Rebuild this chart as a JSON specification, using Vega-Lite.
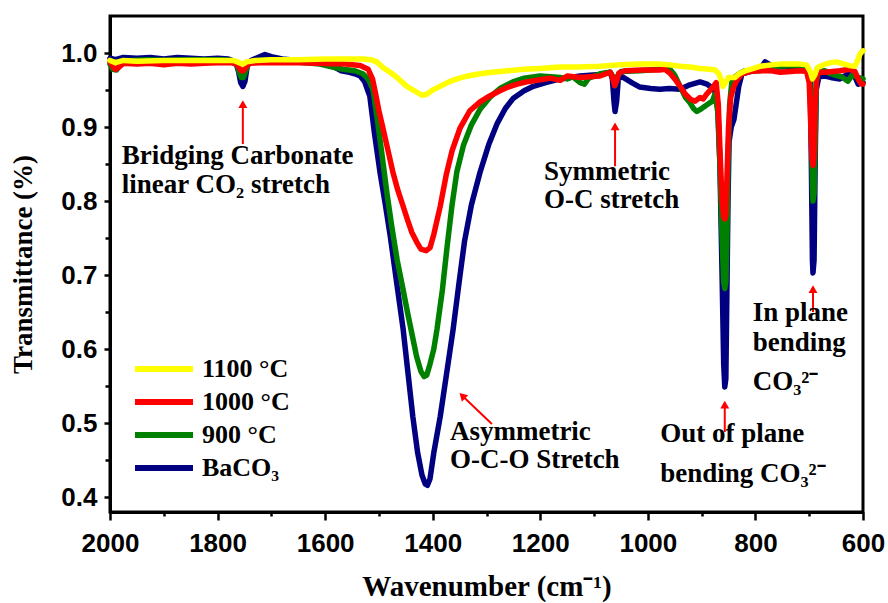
{
  "$schema": "https://vega.github.io/schema/vega-lite/v6.json",
  "width": 753,
  "height": 496,
  "autosize": {"type": "none"},
  "padding": {"left": 110, "top": 16, "right": 25, "bottom": 91},
  "background": "white",
  "config": {
    "view": {"stroke": "black", "strokeWidth": 3},
    "font": "Liberation Serif",
    "axis": {
      "grid": false,
      "domainColor": "black",
      "domainWidth": 3,
      "tickColor": "black",
      "tickWidth": 2.5,
      "labelFont": "Liberation Sans",
      "labelFontWeight": "bold",
      "labelFontSize": 26,
      "labelColor": "black",
      "titleFont": "Liberation Serif",
      "titleFontWeight": "bold",
      "titleFontSize": 27,
      "titleColor": "black"
    }
  },
  "datasets": {
    "spectra": [
      {"s": "BaCO₃", "wn": 2000, "t": 0.993}, {"s": "BaCO₃", "wn": 1990, "t": 0.991}, {"s": "BaCO₃", "wn": 1975, "t": 0.994},
      {"s": "BaCO₃", "wn": 1950, "t": 0.993}, {"s": "BaCO₃", "wn": 1925, "t": 0.994}, {"s": "BaCO₃", "wn": 1900, "t": 0.992},
      {"s": "BaCO₃", "wn": 1875, "t": 0.994}, {"s": "BaCO₃", "wn": 1850, "t": 0.993}, {"s": "BaCO₃", "wn": 1825, "t": 0.992},
      {"s": "BaCO₃", "wn": 1800, "t": 0.993}, {"s": "BaCO₃", "wn": 1780, "t": 0.992}, {"s": "BaCO₃", "wn": 1766, "t": 0.988},
      {"s": "BaCO₃", "wn": 1761, "t": 0.975}, {"s": "BaCO₃", "wn": 1757, "t": 0.96}, {"s": "BaCO₃", "wn": 1753, "t": 0.955},
      {"s": "BaCO₃", "wn": 1749, "t": 0.962}, {"s": "BaCO₃", "wn": 1745, "t": 0.982}, {"s": "BaCO₃", "wn": 1738, "t": 0.99},
      {"s": "BaCO₃", "wn": 1725, "t": 0.994}, {"s": "BaCO₃", "wn": 1712, "t": 0.998}, {"s": "BaCO₃", "wn": 1700, "t": 0.995},
      {"s": "BaCO₃", "wn": 1680, "t": 0.992}, {"s": "BaCO₃", "wn": 1650, "t": 0.99}, {"s": "BaCO₃", "wn": 1620, "t": 0.988},
      {"s": "BaCO₃", "wn": 1600, "t": 0.986}, {"s": "BaCO₃", "wn": 1585, "t": 0.982}, {"s": "BaCO₃", "wn": 1570, "t": 0.976},
      {"s": "BaCO₃", "wn": 1555, "t": 0.974}, {"s": "BaCO₃", "wn": 1545, "t": 0.972}, {"s": "BaCO₃", "wn": 1535, "t": 0.969},
      {"s": "BaCO₃", "wn": 1527, "t": 0.962}, {"s": "BaCO₃", "wn": 1517, "t": 0.942}, {"s": "BaCO₃", "wn": 1508, "t": 0.89},
      {"s": "BaCO₃", "wn": 1498, "t": 0.839}, {"s": "BaCO₃", "wn": 1488, "t": 0.795}, {"s": "BaCO₃", "wn": 1479, "t": 0.753},
      {"s": "BaCO₃", "wn": 1467, "t": 0.69}, {"s": "BaCO₃", "wn": 1455, "t": 0.627}, {"s": "BaCO₃", "wn": 1446, "t": 0.568},
      {"s": "BaCO₃", "wn": 1437, "t": 0.509}, {"s": "BaCO₃", "wn": 1428, "t": 0.46}, {"s": "BaCO₃", "wn": 1420, "t": 0.43},
      {"s": "BaCO₃", "wn": 1414, "t": 0.418}, {"s": "BaCO₃", "wn": 1410, "t": 0.416}, {"s": "BaCO₃", "wn": 1405, "t": 0.425},
      {"s": "BaCO₃", "wn": 1398, "t": 0.46}, {"s": "BaCO₃", "wn": 1386, "t": 0.509}, {"s": "BaCO₃", "wn": 1374, "t": 0.568},
      {"s": "BaCO₃", "wn": 1362, "t": 0.627}, {"s": "BaCO₃", "wn": 1351, "t": 0.69}, {"s": "BaCO₃", "wn": 1341, "t": 0.745},
      {"s": "BaCO₃", "wn": 1328, "t": 0.795}, {"s": "BaCO₃", "wn": 1312, "t": 0.839}, {"s": "BaCO₃", "wn": 1296, "t": 0.876},
      {"s": "BaCO₃", "wn": 1280, "t": 0.905}, {"s": "BaCO₃", "wn": 1265, "t": 0.925}, {"s": "BaCO₃", "wn": 1250, "t": 0.939},
      {"s": "BaCO₃", "wn": 1230, "t": 0.949}, {"s": "BaCO₃", "wn": 1213, "t": 0.955}, {"s": "BaCO₃", "wn": 1190, "t": 0.96},
      {"s": "BaCO₃", "wn": 1163, "t": 0.965}, {"s": "BaCO₃", "wn": 1126, "t": 0.969}, {"s": "BaCO₃", "wn": 1089, "t": 0.971},
      {"s": "BaCO₃", "wn": 1070, "t": 0.974}, {"s": "BaCO₃", "wn": 1066, "t": 0.965}, {"s": "BaCO₃", "wn": 1063, "t": 0.935},
      {"s": "BaCO₃", "wn": 1061, "t": 0.921}, {"s": "BaCO₃", "wn": 1058, "t": 0.935}, {"s": "BaCO₃", "wn": 1055, "t": 0.965},
      {"s": "BaCO₃", "wn": 1048, "t": 0.968}, {"s": "BaCO₃", "wn": 1030, "t": 0.96}, {"s": "BaCO₃", "wn": 1015, "t": 0.954},
      {"s": "BaCO₃", "wn": 995, "t": 0.952}, {"s": "BaCO₃", "wn": 978, "t": 0.951}, {"s": "BaCO₃", "wn": 960, "t": 0.952},
      {"s": "BaCO₃", "wn": 940, "t": 0.951}, {"s": "BaCO₃", "wn": 922, "t": 0.957}, {"s": "BaCO₃", "wn": 903, "t": 0.961},
      {"s": "BaCO₃", "wn": 890, "t": 0.958}, {"s": "BaCO₃", "wn": 879, "t": 0.952}, {"s": "BaCO₃", "wn": 873, "t": 0.945},
      {"s": "BaCO₃", "wn": 870, "t": 0.93}, {"s": "BaCO₃", "wn": 866, "t": 0.85}, {"s": "BaCO₃", "wn": 862, "t": 0.7},
      {"s": "BaCO₃", "wn": 859, "t": 0.58}, {"s": "BaCO₃", "wn": 857, "t": 0.549}, {"s": "BaCO₃", "wn": 855, "t": 0.56},
      {"s": "BaCO₃", "wn": 853, "t": 0.68}, {"s": "BaCO₃", "wn": 851, "t": 0.8}, {"s": "BaCO₃", "wn": 849, "t": 0.88},
      {"s": "BaCO₃", "wn": 845, "t": 0.9}, {"s": "BaCO₃", "wn": 840, "t": 0.91}, {"s": "BaCO₃", "wn": 836, "t": 0.93},
      {"s": "BaCO₃", "wn": 831, "t": 0.955}, {"s": "BaCO₃", "wn": 825, "t": 0.972}, {"s": "BaCO₃", "wn": 805, "t": 0.976},
      {"s": "BaCO₃", "wn": 792, "t": 0.978}, {"s": "BaCO₃", "wn": 782, "t": 0.988}, {"s": "BaCO₃", "wn": 770, "t": 0.983},
      {"s": "BaCO₃", "wn": 754, "t": 0.981}, {"s": "BaCO₃", "wn": 735, "t": 0.982}, {"s": "BaCO₃", "wn": 717, "t": 0.982},
      {"s": "BaCO₃", "wn": 702, "t": 0.978}, {"s": "BaCO₃", "wn": 698, "t": 0.96}, {"s": "BaCO₃", "wn": 696, "t": 0.85},
      {"s": "BaCO₃", "wn": 694, "t": 0.72}, {"s": "BaCO₃", "wn": 693, "t": 0.703}, {"s": "BaCO₃", "wn": 691, "t": 0.72},
      {"s": "BaCO₃", "wn": 689, "t": 0.85}, {"s": "BaCO₃", "wn": 687, "t": 0.95}, {"s": "BaCO₃", "wn": 682, "t": 0.968},
      {"s": "BaCO₃", "wn": 671, "t": 0.969}, {"s": "BaCO₃", "wn": 660, "t": 0.967}, {"s": "BaCO₃", "wn": 643, "t": 0.965},
      {"s": "BaCO₃", "wn": 632, "t": 0.97}, {"s": "BaCO₃", "wn": 624, "t": 0.974}, {"s": "BaCO₃", "wn": 615, "t": 0.968},
      {"s": "BaCO₃", "wn": 609, "t": 0.958}, {"s": "BaCO₃", "wn": 604, "t": 0.962}, {"s": "BaCO₃", "wn": 600, "t": 0.96},

      {"s": "900 °C", "wn": 2000, "t": 0.985}, {"s": "900 °C", "wn": 1995, "t": 0.978}, {"s": "900 °C", "wn": 1988, "t": 0.977},
      {"s": "900 °C", "wn": 1980, "t": 0.986}, {"s": "900 °C", "wn": 1960, "t": 0.99}, {"s": "900 °C", "wn": 1930, "t": 0.991},
      {"s": "900 °C", "wn": 1900, "t": 0.99}, {"s": "900 °C", "wn": 1850, "t": 0.991}, {"s": "900 °C", "wn": 1800, "t": 0.991},
      {"s": "900 °C", "wn": 1775, "t": 0.99}, {"s": "900 °C", "wn": 1765, "t": 0.985}, {"s": "900 °C", "wn": 1760, "t": 0.975},
      {"s": "900 °C", "wn": 1756, "t": 0.967}, {"s": "900 °C", "wn": 1752, "t": 0.967}, {"s": "900 °C", "wn": 1748, "t": 0.975},
      {"s": "900 °C", "wn": 1742, "t": 0.987}, {"s": "900 °C", "wn": 1720, "t": 0.99}, {"s": "900 °C", "wn": 1700, "t": 0.99},
      {"s": "900 °C", "wn": 1650, "t": 0.988}, {"s": "900 °C", "wn": 1610, "t": 0.985}, {"s": "900 °C", "wn": 1580, "t": 0.98},
      {"s": "900 °C", "wn": 1567, "t": 0.978}, {"s": "900 °C", "wn": 1545, "t": 0.976}, {"s": "900 °C", "wn": 1530, "t": 0.972},
      {"s": "900 °C", "wn": 1520, "t": 0.965}, {"s": "900 °C", "wn": 1511, "t": 0.951}, {"s": "900 °C", "wn": 1502, "t": 0.905},
      {"s": "900 °C", "wn": 1494, "t": 0.861}, {"s": "900 °C", "wn": 1485, "t": 0.81}, {"s": "900 °C", "wn": 1476, "t": 0.765},
      {"s": "900 °C", "wn": 1466, "t": 0.72}, {"s": "900 °C", "wn": 1455, "t": 0.68}, {"s": "900 °C", "wn": 1447, "t": 0.65},
      {"s": "900 °C", "wn": 1439, "t": 0.622}, {"s": "900 °C", "wn": 1430, "t": 0.59}, {"s": "900 °C", "wn": 1422, "t": 0.57},
      {"s": "900 °C", "wn": 1416, "t": 0.563}, {"s": "900 °C", "wn": 1411, "t": 0.565}, {"s": "900 °C", "wn": 1405, "t": 0.58},
      {"s": "900 °C", "wn": 1398, "t": 0.6}, {"s": "900 °C", "wn": 1392, "t": 0.627}, {"s": "900 °C", "wn": 1382, "t": 0.68},
      {"s": "900 °C", "wn": 1373, "t": 0.74}, {"s": "900 °C", "wn": 1364, "t": 0.795}, {"s": "900 °C", "wn": 1355, "t": 0.84},
      {"s": "900 °C", "wn": 1343, "t": 0.875}, {"s": "900 °C", "wn": 1328, "t": 0.903}, {"s": "900 °C", "wn": 1312, "t": 0.924},
      {"s": "900 °C", "wn": 1294, "t": 0.94}, {"s": "900 °C", "wn": 1275, "t": 0.952}, {"s": "900 °C", "wn": 1251, "t": 0.961},
      {"s": "900 °C", "wn": 1230, "t": 0.966}, {"s": "900 °C", "wn": 1201, "t": 0.969}, {"s": "900 °C", "wn": 1180, "t": 0.968},
      {"s": "900 °C", "wn": 1163, "t": 0.967}, {"s": "900 °C", "wn": 1150, "t": 0.965}, {"s": "900 °C", "wn": 1140, "t": 0.968},
      {"s": "900 °C", "wn": 1126, "t": 0.96}, {"s": "900 °C", "wn": 1118, "t": 0.958}, {"s": "900 °C", "wn": 1110, "t": 0.966},
      {"s": "900 °C", "wn": 1089, "t": 0.972}, {"s": "900 °C", "wn": 1070, "t": 0.974}, {"s": "900 °C", "wn": 1065, "t": 0.968},
      {"s": "900 °C", "wn": 1061, "t": 0.956}, {"s": "900 °C", "wn": 1057, "t": 0.968}, {"s": "900 °C", "wn": 1050, "t": 0.975},
      {"s": "900 °C", "wn": 1015, "t": 0.976}, {"s": "900 °C", "wn": 978, "t": 0.978}, {"s": "900 °C", "wn": 959, "t": 0.978},
      {"s": "900 °C", "wn": 950, "t": 0.97}, {"s": "900 °C", "wn": 940, "t": 0.955}, {"s": "900 °C", "wn": 930, "t": 0.94},
      {"s": "900 °C", "wn": 922, "t": 0.933}, {"s": "900 °C", "wn": 915, "t": 0.925}, {"s": "900 °C", "wn": 909, "t": 0.921},
      {"s": "900 °C", "wn": 900, "t": 0.925}, {"s": "900 °C", "wn": 894, "t": 0.928}, {"s": "900 °C", "wn": 886, "t": 0.932},
      {"s": "900 °C", "wn": 880, "t": 0.935}, {"s": "900 °C", "wn": 875, "t": 0.945}, {"s": "900 °C", "wn": 870, "t": 0.92},
      {"s": "900 °C", "wn": 866, "t": 0.85}, {"s": "900 °C", "wn": 862, "t": 0.75}, {"s": "900 °C", "wn": 859, "t": 0.69},
      {"s": "900 °C", "wn": 857, "t": 0.682}, {"s": "900 °C", "wn": 855, "t": 0.69}, {"s": "900 °C", "wn": 853, "t": 0.75},
      {"s": "900 °C", "wn": 851, "t": 0.85}, {"s": "900 °C", "wn": 848, "t": 0.93}, {"s": "900 °C", "wn": 844, "t": 0.96},
      {"s": "900 °C", "wn": 838, "t": 0.968}, {"s": "900 °C", "wn": 830, "t": 0.972}, {"s": "900 °C", "wn": 820, "t": 0.976},
      {"s": "900 °C", "wn": 792, "t": 0.976}, {"s": "900 °C", "wn": 770, "t": 0.98}, {"s": "900 °C", "wn": 754, "t": 0.982},
      {"s": "900 °C", "wn": 735, "t": 0.983}, {"s": "900 °C", "wn": 717, "t": 0.982}, {"s": "900 °C", "wn": 705, "t": 0.98},
      {"s": "900 °C", "wn": 699, "t": 0.97}, {"s": "900 °C", "wn": 696, "t": 0.9}, {"s": "900 °C", "wn": 694, "t": 0.82},
      {"s": "900 °C", "wn": 693, "t": 0.8}, {"s": "900 °C", "wn": 691, "t": 0.81}, {"s": "900 °C", "wn": 689, "t": 0.88},
      {"s": "900 °C", "wn": 687, "t": 0.96}, {"s": "900 °C", "wn": 683, "t": 0.975}, {"s": "900 °C", "wn": 671, "t": 0.976},
      {"s": "900 °C", "wn": 660, "t": 0.972}, {"s": "900 °C", "wn": 652, "t": 0.97}, {"s": "900 °C", "wn": 640, "t": 0.968},
      {"s": "900 °C", "wn": 628, "t": 0.962}, {"s": "900 °C", "wn": 620, "t": 0.97}, {"s": "900 °C", "wn": 609, "t": 0.967},
      {"s": "900 °C", "wn": 600, "t": 0.965},

      {"s": "1000 °C", "wn": 2000, "t": 0.988}, {"s": "1000 °C", "wn": 1995, "t": 0.982}, {"s": "1000 °C", "wn": 1990, "t": 0.978},
      {"s": "1000 °C", "wn": 1985, "t": 0.98}, {"s": "1000 °C", "wn": 1975, "t": 0.986}, {"s": "1000 °C", "wn": 1950, "t": 0.985},
      {"s": "1000 °C", "wn": 1925, "t": 0.986}, {"s": "1000 °C", "wn": 1900, "t": 0.984}, {"s": "1000 °C", "wn": 1875, "t": 0.986},
      {"s": "1000 °C", "wn": 1850, "t": 0.985}, {"s": "1000 °C", "wn": 1825, "t": 0.986}, {"s": "1000 °C", "wn": 1800, "t": 0.987},
      {"s": "1000 °C", "wn": 1775, "t": 0.987}, {"s": "1000 °C", "wn": 1765, "t": 0.985}, {"s": "1000 °C", "wn": 1760, "t": 0.98},
      {"s": "1000 °C", "wn": 1756, "t": 0.976}, {"s": "1000 °C", "wn": 1752, "t": 0.976}, {"s": "1000 °C", "wn": 1748, "t": 0.98},
      {"s": "1000 °C", "wn": 1742, "t": 0.986}, {"s": "1000 °C", "wn": 1720, "t": 0.987}, {"s": "1000 °C", "wn": 1700, "t": 0.987},
      {"s": "1000 °C", "wn": 1650, "t": 0.987}, {"s": "1000 °C", "wn": 1600, "t": 0.986}, {"s": "1000 °C", "wn": 1560, "t": 0.985},
      {"s": "1000 °C", "wn": 1535, "t": 0.983}, {"s": "1000 °C", "wn": 1520, "t": 0.978}, {"s": "1000 °C", "wn": 1512, "t": 0.965},
      {"s": "1000 °C", "wn": 1507, "t": 0.948}, {"s": "1000 °C", "wn": 1500, "t": 0.922}, {"s": "1000 °C", "wn": 1492, "t": 0.897},
      {"s": "1000 °C", "wn": 1483, "t": 0.868}, {"s": "1000 °C", "wn": 1474, "t": 0.839}, {"s": "1000 °C", "wn": 1465, "t": 0.815},
      {"s": "1000 °C", "wn": 1455, "t": 0.793}, {"s": "1000 °C", "wn": 1447, "t": 0.775}, {"s": "1000 °C", "wn": 1439, "t": 0.758},
      {"s": "1000 °C", "wn": 1430, "t": 0.745}, {"s": "1000 °C", "wn": 1422, "t": 0.735}, {"s": "1000 °C", "wn": 1412, "t": 0.733},
      {"s": "1000 °C", "wn": 1405, "t": 0.737}, {"s": "1000 °C", "wn": 1398, "t": 0.755}, {"s": "1000 °C", "wn": 1386, "t": 0.793},
      {"s": "1000 °C", "wn": 1375, "t": 0.835}, {"s": "1000 °C", "wn": 1364, "t": 0.868}, {"s": "1000 °C", "wn": 1349, "t": 0.899},
      {"s": "1000 °C", "wn": 1331, "t": 0.922}, {"s": "1000 °C", "wn": 1312, "t": 0.934}, {"s": "1000 °C", "wn": 1294, "t": 0.942},
      {"s": "1000 °C", "wn": 1275, "t": 0.949}, {"s": "1000 °C", "wn": 1260, "t": 0.954}, {"s": "1000 °C", "wn": 1243, "t": 0.958},
      {"s": "1000 °C", "wn": 1225, "t": 0.961}, {"s": "1000 °C", "wn": 1200, "t": 0.964}, {"s": "1000 °C", "wn": 1182, "t": 0.966},
      {"s": "1000 °C", "wn": 1163, "t": 0.963}, {"s": "1000 °C", "wn": 1150, "t": 0.969}, {"s": "1000 °C", "wn": 1126, "t": 0.967},
      {"s": "1000 °C", "wn": 1089, "t": 0.969}, {"s": "1000 °C", "wn": 1070, "t": 0.974}, {"s": "1000 °C", "wn": 1066, "t": 0.968},
      {"s": "1000 °C", "wn": 1062, "t": 0.956}, {"s": "1000 °C", "wn": 1058, "t": 0.962}, {"s": "1000 °C", "wn": 1054, "t": 0.973},
      {"s": "1000 °C", "wn": 1043, "t": 0.976}, {"s": "1000 °C", "wn": 1010, "t": 0.977}, {"s": "1000 °C", "wn": 978, "t": 0.977},
      {"s": "1000 °C", "wn": 968, "t": 0.978}, {"s": "1000 °C", "wn": 958, "t": 0.972}, {"s": "1000 °C", "wn": 950, "t": 0.965},
      {"s": "1000 °C", "wn": 940, "t": 0.955}, {"s": "1000 °C", "wn": 931, "t": 0.945}, {"s": "1000 °C", "wn": 920, "t": 0.937},
      {"s": "1000 °C", "wn": 912, "t": 0.935}, {"s": "1000 °C", "wn": 903, "t": 0.94}, {"s": "1000 °C", "wn": 897, "t": 0.938},
      {"s": "1000 °C", "wn": 890, "t": 0.945}, {"s": "1000 °C", "wn": 879, "t": 0.954}, {"s": "1000 °C", "wn": 873, "t": 0.96},
      {"s": "1000 °C", "wn": 869, "t": 0.93}, {"s": "1000 °C", "wn": 866, "t": 0.87}, {"s": "1000 °C", "wn": 862, "t": 0.8},
      {"s": "1000 °C", "wn": 859, "t": 0.778}, {"s": "1000 °C", "wn": 857, "t": 0.776}, {"s": "1000 °C", "wn": 855, "t": 0.78},
      {"s": "1000 °C", "wn": 853, "t": 0.83}, {"s": "1000 °C", "wn": 850, "t": 0.9}, {"s": "1000 °C", "wn": 846, "t": 0.94},
      {"s": "1000 °C", "wn": 840, "t": 0.955}, {"s": "1000 °C", "wn": 833, "t": 0.965}, {"s": "1000 °C", "wn": 825, "t": 0.972},
      {"s": "1000 °C", "wn": 810, "t": 0.975}, {"s": "1000 °C", "wn": 792, "t": 0.976}, {"s": "1000 °C", "wn": 770, "t": 0.976},
      {"s": "1000 °C", "wn": 754, "t": 0.974}, {"s": "1000 °C", "wn": 735, "t": 0.975}, {"s": "1000 °C", "wn": 717, "t": 0.976},
      {"s": "1000 °C", "wn": 705, "t": 0.975}, {"s": "1000 °C", "wn": 700, "t": 0.96}, {"s": "1000 °C", "wn": 697, "t": 0.9},
      {"s": "1000 °C", "wn": 695, "t": 0.86}, {"s": "1000 °C", "wn": 693, "t": 0.848}, {"s": "1000 °C", "wn": 691, "t": 0.86},
      {"s": "1000 °C", "wn": 689, "t": 0.93}, {"s": "1000 °C", "wn": 686, "t": 0.97}, {"s": "1000 °C", "wn": 680, "t": 0.974},
      {"s": "1000 °C", "wn": 671, "t": 0.974}, {"s": "1000 °C", "wn": 656, "t": 0.975}, {"s": "1000 °C", "wn": 643, "t": 0.976},
      {"s": "1000 °C", "wn": 625, "t": 0.978}, {"s": "1000 °C", "wn": 615, "t": 0.975}, {"s": "1000 °C", "wn": 609, "t": 0.965},
      {"s": "1000 °C", "wn": 603, "t": 0.958}, {"s": "1000 °C", "wn": 600, "t": 0.958},

      {"s": "1100 °C", "wn": 2000, "t": 0.99}, {"s": "1100 °C", "wn": 1990, "t": 0.987}, {"s": "1100 °C", "wn": 1975, "t": 0.99},
      {"s": "1100 °C", "wn": 1950, "t": 0.989}, {"s": "1100 °C", "wn": 1900, "t": 0.99}, {"s": "1100 °C", "wn": 1850, "t": 0.99},
      {"s": "1100 °C", "wn": 1800, "t": 0.99}, {"s": "1100 °C", "wn": 1770, "t": 0.99}, {"s": "1100 °C", "wn": 1760, "t": 0.987},
      {"s": "1100 °C", "wn": 1753, "t": 0.985}, {"s": "1100 °C", "wn": 1746, "t": 0.988}, {"s": "1100 °C", "wn": 1730, "t": 0.99},
      {"s": "1100 °C", "wn": 1700, "t": 0.991}, {"s": "1100 °C", "wn": 1650, "t": 0.991}, {"s": "1100 °C", "wn": 1600, "t": 0.992},
      {"s": "1100 °C", "wn": 1560, "t": 0.992}, {"s": "1100 °C", "wn": 1530, "t": 0.992}, {"s": "1100 °C", "wn": 1515, "t": 0.991},
      {"s": "1100 °C", "wn": 1504, "t": 0.988}, {"s": "1100 °C", "wn": 1492, "t": 0.98}, {"s": "1100 °C", "wn": 1479, "t": 0.974},
      {"s": "1100 °C", "wn": 1465, "t": 0.966}, {"s": "1100 °C", "wn": 1448, "t": 0.955}, {"s": "1100 °C", "wn": 1432, "t": 0.948},
      {"s": "1100 °C", "wn": 1420, "t": 0.943}, {"s": "1100 °C", "wn": 1412, "t": 0.944}, {"s": "1100 °C", "wn": 1400, "t": 0.95},
      {"s": "1100 °C", "wn": 1386, "t": 0.955}, {"s": "1100 °C", "wn": 1370, "t": 0.961}, {"s": "1100 °C", "wn": 1355, "t": 0.965},
      {"s": "1100 °C", "wn": 1335, "t": 0.969}, {"s": "1100 °C", "wn": 1312, "t": 0.972}, {"s": "1100 °C", "wn": 1290, "t": 0.974},
      {"s": "1100 °C", "wn": 1262, "t": 0.976}, {"s": "1100 °C", "wn": 1230, "t": 0.978}, {"s": "1100 °C", "wn": 1201, "t": 0.979},
      {"s": "1100 °C", "wn": 1163, "t": 0.981}, {"s": "1100 °C", "wn": 1130, "t": 0.981}, {"s": "1100 °C", "wn": 1089, "t": 0.982},
      {"s": "1100 °C", "wn": 1052, "t": 0.984}, {"s": "1100 °C", "wn": 1015, "t": 0.985}, {"s": "1100 °C", "wn": 978, "t": 0.985},
      {"s": "1100 °C", "wn": 960, "t": 0.984}, {"s": "1100 °C", "wn": 940, "t": 0.982}, {"s": "1100 °C", "wn": 922, "t": 0.981},
      {"s": "1100 °C", "wn": 903, "t": 0.979}, {"s": "1100 °C", "wn": 885, "t": 0.978}, {"s": "1100 °C", "wn": 875, "t": 0.977},
      {"s": "1100 °C", "wn": 868, "t": 0.972}, {"s": "1100 °C", "wn": 863, "t": 0.962}, {"s": "1100 °C", "wn": 860, "t": 0.955},
      {"s": "1100 °C", "wn": 856, "t": 0.96}, {"s": "1100 °C", "wn": 850, "t": 0.967}, {"s": "1100 °C", "wn": 838, "t": 0.967},
      {"s": "1100 °C", "wn": 830, "t": 0.972}, {"s": "1100 °C", "wn": 819, "t": 0.976}, {"s": "1100 °C", "wn": 805, "t": 0.979},
      {"s": "1100 °C", "wn": 792, "t": 0.982}, {"s": "1100 °C", "wn": 770, "t": 0.984}, {"s": "1100 °C", "wn": 754, "t": 0.985},
      {"s": "1100 °C", "wn": 735, "t": 0.985}, {"s": "1100 °C", "wn": 717, "t": 0.985}, {"s": "1100 °C", "wn": 705, "t": 0.984},
      {"s": "1100 °C", "wn": 698, "t": 0.975}, {"s": "1100 °C", "wn": 694, "t": 0.965}, {"s": "1100 °C", "wn": 690, "t": 0.97},
      {"s": "1100 °C", "wn": 685, "t": 0.98}, {"s": "1100 °C", "wn": 671, "t": 0.985}, {"s": "1100 °C", "wn": 660, "t": 0.987},
      {"s": "1100 °C", "wn": 650, "t": 0.988}, {"s": "1100 °C", "wn": 635, "t": 0.985}, {"s": "1100 °C", "wn": 625, "t": 0.983},
      {"s": "1100 °C", "wn": 615, "t": 0.982}, {"s": "1100 °C", "wn": 610, "t": 0.99}, {"s": "1100 °C", "wn": 606, "t": 0.998},
      {"s": "1100 °C", "wn": 602, "t": 1.002}, {"s": "1100 °C", "wn": 600, "t": 1.003}
    ],
    "notes": [
      {"label": "Bridging Carbonate", "wn": 1978, "t": 0.861},
      {"label": "linear CO₂ stretch", "wn": 1978, "t": 0.822},
      {"label": "Symmetric", "wn": 1193, "t": 0.839},
      {"label": "O-C stretch", "wn": 1193, "t": 0.801},
      {"label": "Asymmetric", "wn": 1368, "t": 0.488},
      {"label": "O-C-O Stretch", "wn": 1368, "t": 0.45},
      {"label": "Out of plane", "wn": 977, "t": 0.486},
      {"label": "bending CO₃²⁻", "wn": 977, "t": 0.431},
      {"label": "In plane", "wn": 805, "t": 0.649},
      {"label": "bending", "wn": 805, "t": 0.608},
      {"label": "CO₃²⁻", "wn": 805, "t": 0.555}
    ],
    "arrows": [
      {"wn": 1753, "t": 0.931, "wn2": 1753, "t2": 0.877},
      {"wn": 1061, "t": 0.901, "wn2": 1061, "t2": 0.847},
      {"wn": 857, "t": 0.525, "wn2": 857, "t2": 0.488},
      {"wn": 693, "t": 0.681, "wn2": 693, "t2": 0.65}
    ],
    "diag": [
      {"wn": 1345, "t": 0.537, "wn2": 1290, "t2": 0.499}
    ]
  },
  "encoding": {
    "x": {
      "field": "wn", "type": "quantitative",
      "scale": {"domain": [600, 2000], "reverse": true, "nice": false, "zero": false},
      "axis": {
        "title": "Wavenumber (cm⁻¹)",
        "titleFontSize": 29,
        "values": [2000, 1900, 1800, 1700, 1600, 1500, 1400, 1300, 1200, 1100, 1000, 900, 800, 700, 600],
        "labelExpr": "round(datum.value) % 200 == 0 ? format(datum.value, 'd') : ''",
        "tickSize": {"condition": {"test": "round(datum.value) % 200 == 0", "value": 8}, "value": 4},
        "labelPadding": 10,
        "titlePadding": 16,
        "labelFlush": false
      }
    },
    "y": {
      "field": "t", "type": "quantitative",
      "scale": {"domain": [0.38, 1.05], "nice": false, "zero": false},
      "axis": {
        "title": "Transmittance (%)",
        "values": [0.4, 0.45, 0.5, 0.55, 0.6, 0.65, 0.7, 0.75, 0.8, 0.85, 0.9, 0.95, 1.0],
        "labelExpr": "round(datum.value*100) % 10 == 0 ? format(datum.value, '.1f') : ''",
        "tickSize": {"condition": {"test": "round(datum.value*100) % 10 == 0", "value": 6}, "value": 5},
        "labelPadding": 7,
        "titlePadding": 23,
        "labelFlush": false
      }
    }
  },
  "layer": [
    {
      "data": {"name": "spectra"},
      "mark": {"type": "line", "strokeWidth": 5.5, "strokeCap": "round", "strokeJoin": "round"},
      "encoding": {
        "color": {
          "field": "s", "type": "nominal",
          "scale": {"domain": ["1100 °C", "1000 °C", "900 °C", "BaCO₃"], "range": ["#FFFF00", "#FF0000", "#008000", "#000080"]},
          "legend": {
            "title": null,
            "orient": "none",
            "legendX": 41,
            "legendY": 340,
            "symbolType": "M-3,0H3",
            "symbolSize": 374,
            "symbolStrokeWidth": 6,
            "labelFont": "Liberation Serif",
            "labelFontWeight": "bold",
            "labelFontSize": 26,
            "labelColor": "black",
            "labelOffset": 25,
            "rowPadding": 7,
            "padding": 0
          }
        }
      }
    },
    {
      "data": {"name": "arrows"},
      "mark": {"type": "rule", "color": "#FF0000", "strokeWidth": 2},
      "encoding": {"x2": {"field": "wn2"}, "y2": {"field": "t2"}}
    },
    {
      "data": {"name": "arrows"},
      "mark": {"type": "point", "shape": "triangle-up", "filled": true, "color": "#FF0000", "size": 80, "opacity": 1}
    },
    {
      "data": {"name": "diag"},
      "mark": {"type": "rule", "color": "#FF0000", "strokeWidth": 2},
      "encoding": {"x2": {"field": "wn2"}, "y2": {"field": "t2"}}
    },
    {
      "data": {"name": "diag"},
      "mark": {"type": "point", "shape": "triangle-up", "filled": true, "color": "#FF0000", "size": 80, "opacity": 1, "angle": 315}
    },
    {
      "data": {"name": "notes"},
      "mark": {"type": "text", "align": "left", "baseline": "middle", "font": "Liberation Serif", "fontWeight": "bold", "fontSize": 27, "color": "black"},
      "encoding": {"text": {"field": "label"}}
    }
  ]
}
